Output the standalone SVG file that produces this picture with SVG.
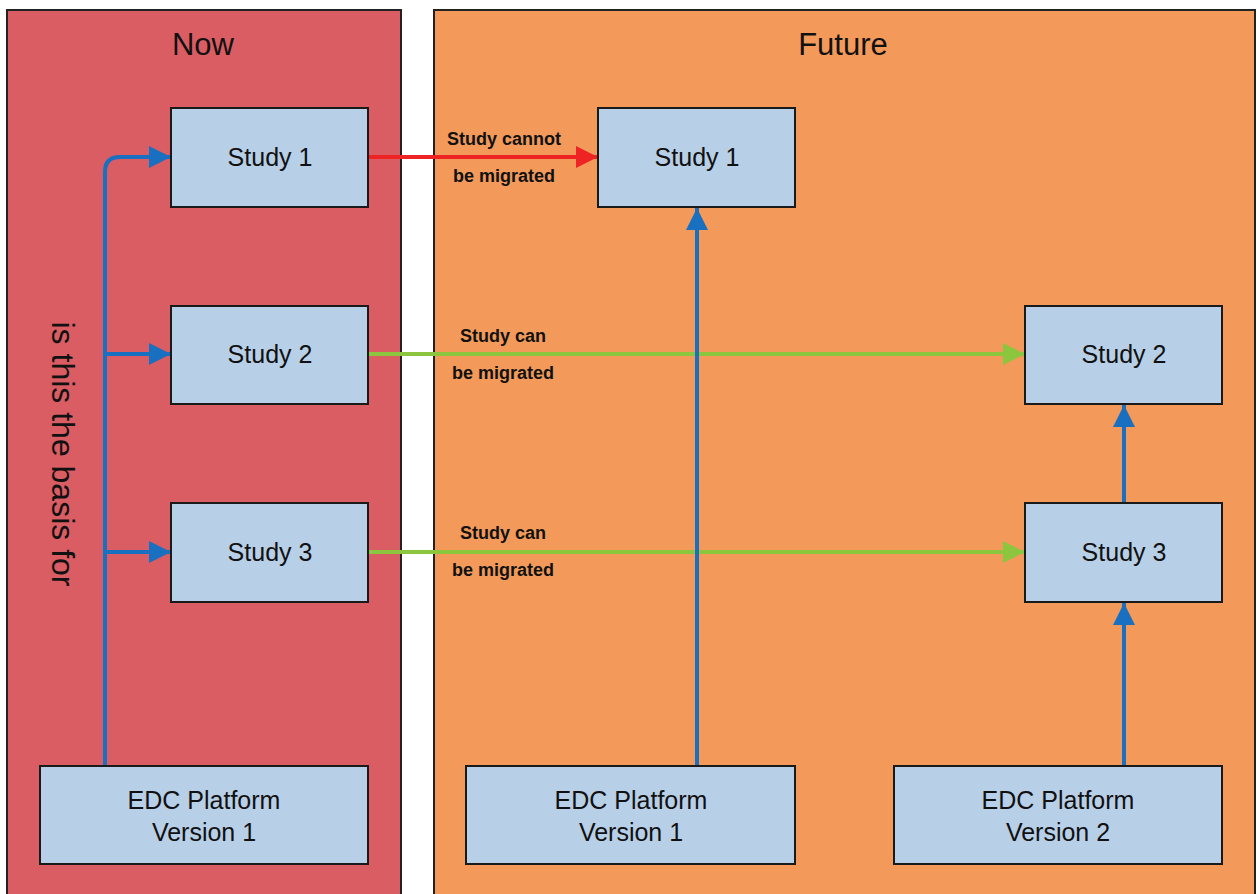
<svg xmlns="http://www.w3.org/2000/svg" width="1257" height="894" viewBox="0 0 1257 894">
<style>
.panel{stroke:#222;stroke-width:2}
.box{fill:#B8CFE8;stroke:#1a1a1a;stroke-width:2}
.t{font-family:"Liberation Sans",Arial,sans-serif;font-size:25px;fill:#111;text-anchor:middle}
.title{font-family:"Liberation Sans",Arial,sans-serif;font-size:31px;fill:#111;text-anchor:middle}
.lbl{font-family:"Liberation Sans",Arial,sans-serif;font-size:18px;font-weight:bold;fill:#111;text-anchor:middle}
.blue{stroke:#1A70C0;stroke-width:4;fill:none}
.red{stroke:#EE2424;stroke-width:4;fill:none}
.green{stroke:#8CC63F;stroke-width:4;fill:none}
</style>
<defs>
<marker id="ab" viewBox="0 0 10 10" refX="10" refY="5" markerWidth="5.5" markerHeight="5.5" markerUnits="strokeWidth" orient="auto"><path d="M0,0 L10,5 L0,10 z" fill="#1A70C0"/></marker>
<marker id="ar" viewBox="0 0 10 10" refX="10" refY="5" markerWidth="5.5" markerHeight="5.5" markerUnits="strokeWidth" orient="auto"><path d="M0,0 L10,5 L0,10 z" fill="#EE2424"/></marker>
<marker id="ag" viewBox="0 0 10 10" refX="10" refY="5" markerWidth="5.5" markerHeight="5.5" markerUnits="strokeWidth" orient="auto"><path d="M0,0 L10,5 L0,10 z" fill="#8CC63F"/></marker>
</defs>
<rect width="1257" height="894" fill="#fff"/>
<g id="panel-now">
<rect class="panel" x="7" y="10" width="394" height="900" fill="#DA5D63"/>
<text class="title" x="203" y="55">Now</text>
<text class="t" style="font-size:32px;text-anchor:middle" transform="translate(52,454) rotate(90)">is this the basis for</text>
</g>
<g id="panel-future">
<rect class="panel" x="434" y="10" width="821" height="900" fill="#F39A5A"/>
<text class="title" x="843" y="55">Future</text>
</g>
<g id="connectors">
<path class="blue" d="M105,766 V172 Q105,157 120,157 H171" marker-end="url(#ab)"/>
<path class="blue" d="M105,354 H171" marker-end="url(#ab)"/>
<path class="blue" d="M105,552 H171" marker-end="url(#ab)"/>
<path class="red" d="M368,157 H598" marker-end="url(#ar)"/>
<path class="green" d="M368,354 H1025" marker-end="url(#ag)"/>
<path class="green" d="M368,552 H1025" marker-end="url(#ag)"/>
<path class="blue" d="M697,766 V208" marker-end="url(#ab)"/>
<path class="blue" d="M1124,766 V603" marker-end="url(#ab)"/>
<path class="blue" d="M1124,503 V405" marker-end="url(#ab)"/>
<text class="lbl" x="504" y="145">Study cannot</text>
<text class="lbl" x="504" y="182">be migrated</text>
<text class="lbl" x="503" y="342">Study can</text>
<text class="lbl" x="503" y="379">be migrated</text>
<text class="lbl" x="503" y="539">Study can</text>
<text class="lbl" x="503" y="576">be migrated</text>
</g>
<g id="now-study1"><rect class="box" x="171" y="108" width="197" height="99"/><text class="t" x="270" y="166">Study 1</text></g>
<g id="now-study2"><rect class="box" x="171" y="306" width="197" height="98"/><text class="t" x="270" y="363">Study 2</text></g>
<g id="now-study3"><rect class="box" x="171" y="503" width="197" height="99"/><text class="t" x="270" y="561">Study 3</text></g>
<g id="now-edc1"><rect class="box" x="40" y="766" width="328" height="98"/><text class="t" x="204" y="809">EDC Platform</text><text class="t" x="204" y="841">Version 1</text></g>
<g id="future-study1"><rect class="box" x="598" y="108" width="197" height="99"/><text class="t" x="697" y="166">Study 1</text></g>
<g id="future-study2"><rect class="box" x="1025" y="306" width="197" height="98"/><text class="t" x="1124" y="363">Study 2</text></g>
<g id="future-study3"><rect class="box" x="1025" y="503" width="197" height="99"/><text class="t" x="1124" y="561">Study 3</text></g>
<g id="future-edc1"><rect class="box" x="466" y="766" width="329" height="98"/><text class="t" x="631" y="809">EDC Platform</text><text class="t" x="631" y="841">Version 1</text></g>
<g id="future-edc2"><rect class="box" x="894" y="766" width="328" height="98"/><text class="t" x="1058" y="809">EDC Platform</text><text class="t" x="1058" y="841">Version 2</text></g>
</svg>
